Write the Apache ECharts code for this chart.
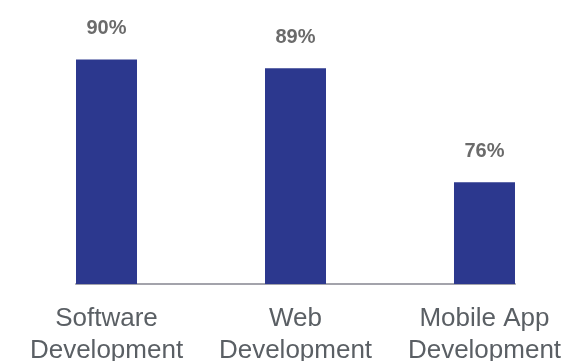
<!DOCTYPE html>
<html>
<head>
<meta charset="utf-8">
<script src="https://cdn.jsdelivr.net/npm/echarts@6/dist/echarts.min.js"></script>
<style>
  html, body { margin: 0; padding: 0; background: #ffffff; }
  #chart { width: 567px; height: 361px; }
</style>
</head>
<body>
<div id="chart"></div>
<script>
// Share of respondents by development area
const categories = ['Software\nDevelopment', 'Web\nDevelopment', 'Mobile App\nDevelopment'];
const percentValues = [90, 89, 76];

const barData = percentValues.map((v, i) => [i, v]);

const chart = echarts.init(document.getElementById('chart'), null, { renderer: 'canvas' });

chart.setOption({
  animation: false,
  backgroundColor: '#ffffff',
  grid: { left: 76, right: 52, top: 20, bottom: 77, containLabel: false, outerBoundsMode: 'none' },
  xAxis: {
    type: 'value',
    min: -0.1614,
    max: 2.1614,
    splitLine: { show: false },
    axisLine: { show: true, lineStyle: { color: '#a3a3ab', width: 2 } },
    axisTick: { show: false },
    axisLabel: {
      customValues: categories.map((c, i) => i),
      formatter: v => categories[Math.round(v)] || '',
      color: '#5a5f64',
      fontFamily: 'Liberation Sans, Arial, sans-serif',
      fontSize: 26,
      lineHeight: 32,
      margin: 19,
      showMinLabel: true,
      showMaxLabel: true
    }
  },
  yAxis: {
    type: 'value',
    min: 64.4,
    max: 94.5,
    show: false
  },
  series: [{
    type: 'bar',
    data: barData,
    barWidth: 61,
    itemStyle: { color: '#2c388e' },
    label: {
      show: true,
      position: 'top',
      distance: 21,
      formatter: p => p.value[1] + '%',
      color: '#6b6b6b',
      fontFamily: 'Liberation Sans, Arial, sans-serif',
      fontWeight: 'bold',
      fontSize: 20
    }
  }]
});
</script>
</body>
</html>
